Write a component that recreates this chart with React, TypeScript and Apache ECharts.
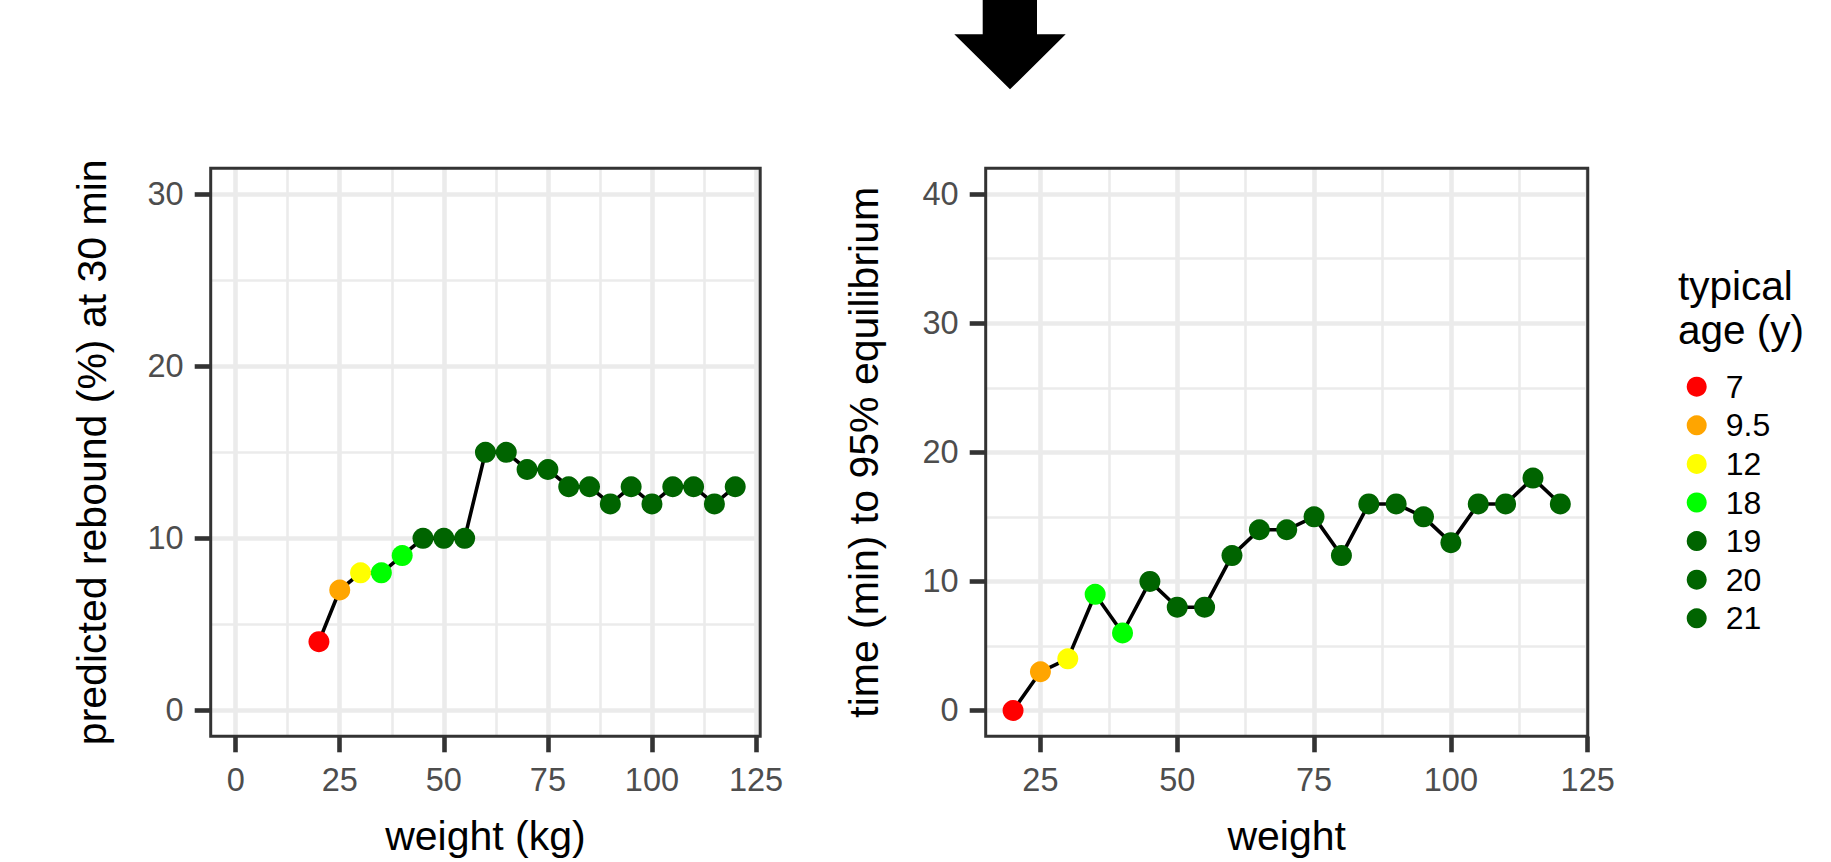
import React, { useEffect, useRef } from "react";
import * as echarts from "echarts";

// ---------- data ----------
const weights = [20, 25, 30, 35, 40, 45, 50, 55, 60, 65, 70, 75, 80, 85, 90, 95, 100, 105, 110, 115, 120];
const reboundPct = [4, 7, 8, 8, 9, 10, 10, 10, 15, 15, 14, 14, 13, 13, 12, 13, 12, 13, 13, 12, 13];
const timeTo95 = [0, 3, 4, 9, 6, 10, 8, 8, 12, 14, 14, 15, 12, 16, 16, 15, 13, 16, 16, 18, 16];
const typicalAge = [7, 9.5, 12, 18, 18, 19, 20, 21, 21, 21, 21, 21, 21, 21, 21, 21, 21, 21, 21, 21, 21];
const ageLevels = ["7", "9.5", "12", "18", "19", "20", "21"];
const ageColors = ["#FF0000", "#FFA500", "#FFFF00", "#00FF00", "#006400", "#006400", "#006400"];

const leftXTicks = [0, 25, 50, 75, 100, 125];
const leftXMinor = [12.5, 37.5, 62.5, 87.5, 112.5];
const leftYTicks = [0, 10, 20, 30];
const leftYMinor = [5, 15, 25];
const rightXTicks = [25, 50, 75, 100, 125];
const rightXMinor = [37.5, 62.5, 87.5, 112.5];
const rightYTicks = [0, 10, 20, 30, 40];
const rightYMinor = [5, 15, 25, 35];

const FONT = "'Liberation Sans', Arial, sans-serif";
const GRID_COL = "#EBEBEB";
const DARK = "#333333";

function gridLines(xMaj: number[], xMin: number[], yMaj: number[], yMin: number[]) {
  const minor = { color: GRID_COL, width: 2.6, type: "solid" as const };
  const major = { color: GRID_COL, width: 4.6, type: "solid" as const };
  return {
    silent: true,
    symbol: "none",
    z: 1,
    label: { show: false },
    emphasis: { disabled: true },
    animation: false,
    data: [
      ...xMin.map((v) => ({ xAxis: v, lineStyle: minor })),
      ...yMin.map((v) => ({ yAxis: v, lineStyle: minor })),
      ...xMaj.map((v) => ({ xAxis: v, lineStyle: major })),
      ...yMaj.map((v) => ({ yAxis: v, lineStyle: major })),
    ],
  };
}

function xAxisCfg(grid: number, min: number, max: number, ticks: number[], name: string) {
  return {
    gridIndex: grid,
    type: "value",
    min,
    max,
    axisLine: { show: false, onZero: false },
    axisTick: { show: true, length: 16, lineStyle: { color: DARK, width: 4.6 }, customValues: ticks },
    axisLabel: { customValues: ticks, fontSize: 32.5, color: "#4D4D4D", margin: 27, fontFamily: FONT },
    splitLine: { show: false },
    name,
    nameLocation: "middle",
    nameGap: 79,
    nameTextStyle: { fontSize: 41, color: "#000", fontFamily: FONT },
  };
}

function yAxisCfg(grid: number, min: number, max: number, ticks: number[], name: string, gap: number) {
  return {
    gridIndex: grid,
    type: "value",
    min,
    max,
    axisLine: { show: false, onZero: false },
    axisTick: { show: true, length: 16, lineStyle: { color: DARK, width: 4.6 }, customValues: ticks },
    axisLabel: { customValues: ticks, fontSize: 32.5, color: "#4D4D4D", margin: 27, fontFamily: FONT },
    splitLine: { show: false },
    name,
    nameLocation: "middle",
    nameRotate: 90,
    nameGap: gap,
    nameTextStyle: { fontSize: 41, color: "#000", fontFamily: FONT },
  };
}

function panelSeries(idx: number, values: number[], lines: any) {
  const line = {
    type: "line",
    xAxisIndex: idx,
    yAxisIndex: idx,
    data: weights.map((w, i) => [w, values[i]]),
    symbol: "none",
    showSymbol: false,
    lineStyle: { color: "#000", width: 3.6 },
    itemStyle: { color: "#000" },
    silent: true,
    z: 3,
    markLine: lines,
  };
  const pts = ageLevels.map((lvl, k) => ({
    type: "scatter",
    name: lvl,
    xAxisIndex: idx,
    yAxisIndex: idx,
    data: weights.flatMap((w, i) => (String(typicalAge[i]) === lvl ? [[w, values[i]]] : [])),
    symbol: "circle",
    symbolSize: 21,
    itemStyle: { color: ageColors[k], opacity: 1 },
    silent: true,
    z: 4,
  }));
  return [line, ...pts];
}

export default function App() {
  const ref = useRef<HTMLDivElement>(null);
  useEffect(() => {
    if (!ref.current) return;
    const chart = echarts.init(ref.current, undefined, { renderer: "svg" });
    chart.setOption({
      animation: false,
      backgroundColor: "#FFFFFF",
      textStyle: { fontFamily: FONT },
      grid: [
        { left: 210.7, top: 168.3, width: 549.5, height: 568, show: true, borderColor: DARK, borderWidth: 3, backgroundColor: "transparent", z: 2 },
        { left: 985.7, top: 168.3, width: 602, height: 568, show: true, borderColor: DARK, borderWidth: 3, backgroundColor: "transparent", z: 2 },
      ],
      xAxis: [
        xAxisCfg(0, -6, 126, leftXTicks, "weight (kg)"),
        xAxisCfg(1, 15, 125, rightXTicks, "weight"),
      ],
      yAxis: [
        yAxisCfg(0, -1.5, 31.5, leftYTicks, "predicted rebound (%) at 30 min", 98),
        yAxisCfg(1, -2, 42, rightYTicks, "time (min) to 95% equilibrium", 101),
      ],
      legend: {
        data: ageLevels.map((n) => ({ name: n })),
        orient: "vertical",
        left: 1686.7,
        top: 370.7,
        padding: 0,
        icon: "circle",
        itemWidth: 20,
        itemHeight: 20,
        itemGap: 6.6,
        selectedMode: false,
        textStyle: { fontSize: 32, lineHeight: 32, color: "#000", fontFamily: FONT, padding: [0, 0, 0, 14] },
      },
      graphic: [
        {
          type: "polygon",
          shape: {
            points: [
              [982.7, 0],
              [1037, 0],
              [1037, 34.3],
              [1065.7, 34.3],
              [1010, 89.3],
              [954.3, 34.3],
              [982.7, 34.3],
            ],
          },
          style: { fill: "#000" },
          silent: true,
        },
        {
          type: "text",
          x: 1678,
          y: 264,
          silent: true,
          style: {
            text: "typical\nage (y)",
            fontSize: 40.5,
            lineHeight: 44,
            fill: "#000",
            fontFamily: FONT,
            align: "left",
            verticalAlign: "top",
          },
        },
      ],
      series: [
        ...panelSeries(0, reboundPct, gridLines(leftXTicks, leftXMinor, leftYTicks, leftYMinor)),
        ...panelSeries(1, timeTo95, gridLines(rightXTicks, rightXMinor, rightYTicks, rightYMinor)),
      ],
    });
    return () => chart.dispose();
  }, []);
  return <div ref={ref} style={{ position: "absolute", left: 0, top: 0, width: 1831, height: 862 }} />;
}
